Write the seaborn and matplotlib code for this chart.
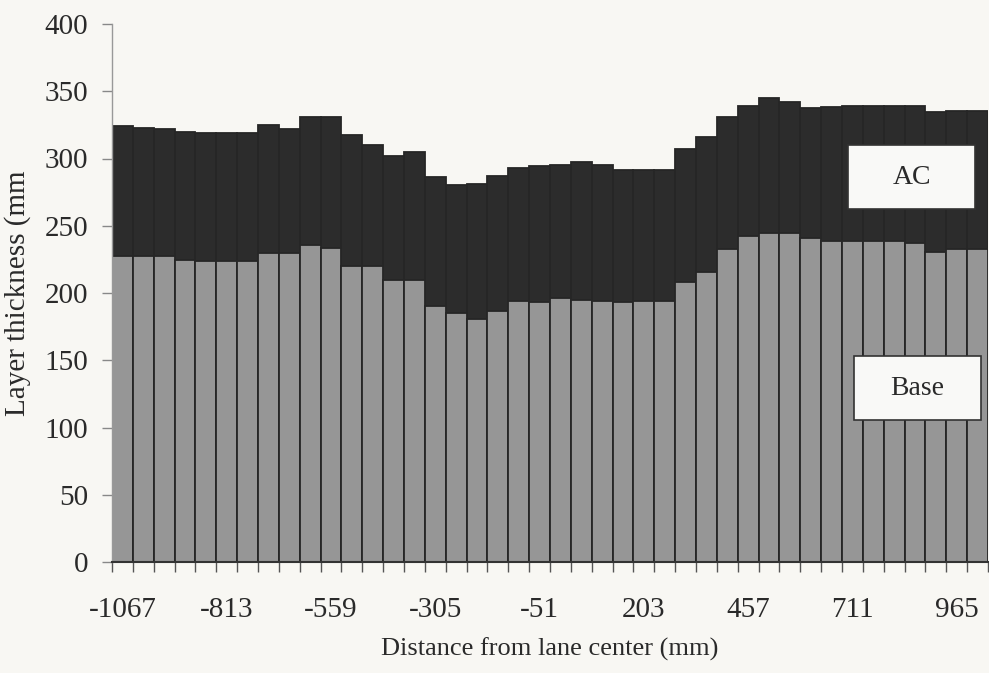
import numpy as np
import pandas as pd
import matplotlib
matplotlib.use("Agg")
import matplotlib.pyplot as plt
from matplotlib.patches import Rectangle
import seaborn as sns

# Distance from lane center (mm), one bar every 50.8 mm
positions = [-1067, -1016, -965, -914, -864, -813, -762, -711, -660, -610,
             -559, -508, -457, -406, -356, -305, -254, -203, -152, -102,
             -51, 0, 51, 102, 152, 203, 254, 305, 356, 406,
             457, 508, 559, 610, 660, 711, 762, 813, 864, 914,
             965, 1016]

# Base layer thickness (mm)
base_mm = [227.5, 227.5, 227.5, 224.3, 224.0, 224.0, 224.0, 230.0, 230.0, 236.0,
           233.7, 220.0, 220.0, 210.0, 210.0, 190.0, 185.0, 181.0, 186.5, 194.0,
           193.0, 196.5, 195.0, 194.0, 193.0, 194.0, 194.0, 208.0, 215.6, 232.5,
           242.4, 244.4, 244.4, 241.2, 238.7, 238.7, 238.7, 238.7, 237.5, 230.5,
           233.0, 233.0]

# Top of AC layer = Base + AC (mm)
total_mm = [324.4, 322.4, 322.0, 319.9, 318.7, 318.7, 318.7, 324.9, 321.9, 331.0,
            331.0, 317.4, 310.0, 302.0, 304.5, 286.0, 280.0, 281.0, 287.0, 293.0,
            294.6, 295.0, 297.6, 295.0, 291.6, 291.6, 291.6, 307.0, 315.7, 330.6,
            338.8, 344.8, 342.3, 337.3, 338.0, 339.3, 339.3, 339.3, 339.3, 334.3,
            335.6, 335.6]

y_ticks = [0, 50, 100, 150, 200, 250, 300, 350, 400]
label_every = 5

sns.set_theme(style="white")
plt.rcParams['font.family'] = ['Liberation Serif', 'DejaVu Serif']

bg = "#f8f7f3"
ac_color = "#2c2c2c"
base_color = "#969696"
edge = "#262626"

fig = plt.figure(figsize=(9.89, 6.73), dpi=100, facecolor=bg)
ax = fig.add_axes([112 / 989, 1 - 562 / 673, 876 / 989, 538 / 673])
ax.set_facecolor(bg)

order = [str(p) for p in positions]
df = pd.DataFrame({"pos": order, "base": base_mm, "total": total_mm})

sns.barplot(data=df, x="pos", y="total", order=order, color=ac_color,
            saturation=1, width=1.0, edgecolor=edge, linewidth=1.3, ax=ax)
sns.barplot(data=df, x="pos", y="base", order=order, color=base_color,
            saturation=1, width=1.0, edgecolor=edge, linewidth=1.3, ax=ax)

ax.set_xlim(-0.5, len(positions) - 0.5)
ax.set_ylim(0, 400)

major = list(range(0, len(positions), label_every))
ax.set_xticks(major)
ax.set_xticklabels([order[i] for i in major], fontsize=21, color="#2a2a2a")
ax.set_xticks(np.arange(-0.5, len(positions), 1.0), minor=True)
ax.tick_params(axis="x", which="major", length=0, pad=25)
ax.tick_params(axis="x", which="minor", length=7, width=1.0, color="#555555",
               direction="out", bottom=True)

ax.set_yticks(y_ticks)
ax.set_yticklabels([str(v) for v in y_ticks], fontsize=21, color="#2a2a2a")
ax.tick_params(axis="y", length=7, width=1.0, color="#888888", direction="out",
               left=True, pad=10)

for s in ["top", "right"]:
    ax.spines[s].set_visible(False)
ax.spines["left"].set_color("#999999")
ax.spines["left"].set_linewidth(1.0)
ax.spines["bottom"].set_color("#333333")
ax.spines["bottom"].set_linewidth(1.5)

ax.set_xlabel("Distance from lane center (mm)", fontsize=19, color="#2a2a2a",
              labelpad=11)
ax.set_ylabel("Layer thickness (mm", fontsize=21, color="#2a2a2a", labelpad=10)

# Label boxes
for (cx, cy, txt) in [(0.9127, 0.7156, "AC"), (0.9195, 0.3234, "Base")]:
    w, h = 0.145, 0.119
    ax.add_patch(Rectangle((cx - w / 2, cy - h / 2), w, h, transform=ax.transAxes,
                           facecolor="#f9f9f7", edgecolor="#333333", linewidth=1.2,
                           zorder=5, clip_on=False))
    ax.text(cx, cy, txt, transform=ax.transAxes, ha="center", va="center",
            fontsize=20, color="#2a2a2a", zorder=6)

fig.savefig("out.png", dpi=100, facecolor=bg)
